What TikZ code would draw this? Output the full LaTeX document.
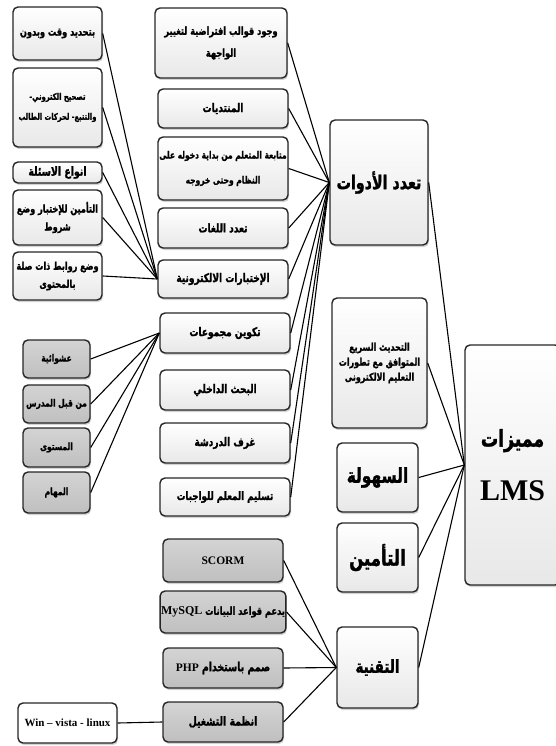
\documentclass[tikz,border=0pt]{standalone}
\usepackage{fontspec}
\setmainfont{Liberation Serif}
\newfontfamily\arabicfont[Script=Arabic,FakeStretch=0.75,FakeBold=1.4]{DejaVu Sans Bold}
\TeXXeTstate=1
\usetikzlibrary{shadows}
\newcommand{\artxt}[1]{{\arabicfont\beginR #1\endR}}

\begin{document}
\begin{tikzpicture}[x=1pt,y=-1pt,semithick]
  \tikzstyle{box}=[rectangle,rounded corners=5pt,draw=black!85,line width=1.4pt,top color=white,bottom color=black!9,drop shadow={opacity=0.35,shadow xshift=1pt,shadow yshift=-2pt},align=center,inner sep=1pt,font=\fontsize{12}{15}\selectfont]
  \tikzstyle{gbox}=[box,top color=black!17,bottom color=black!25,font=\fontsize{10}{12}\selectfont]
  \tikzstyle{tbox}=[gbox,font=\fontsize{12.5}{15}\selectfont]
  \tikzstyle{big}=[box,font=\fontsize{20.5}{24}\selectfont]
  \tikzstyle{link}=[draw=black,line width=1.1pt]

  \useasboundingbox (0,0) rectangle (555,746);

  % test options, left column
  \node[box,minimum width=89,minimum height=53,font=\fontsize{11}{13}\selectfont] (T1) at (57.5,33.5) {\artxt{بتحديد وقت وبدون}};
  \node[box,minimum width=89,minimum height=79,font=\fontsize{9}{20}\selectfont] (T2) at (57.5,107.5) {\artxt{تصحيح الكتروني-}\\\artxt{والتتبع- لحركات الطالب}};
  \node[box,minimum width=89,minimum height=21,font=\fontsize{12.5}{14}\selectfont] (T3) at (57.5,172.5) {\artxt{انواع الاسئلة}};
  \node[box,minimum width=89,minimum height=55,font=\fontsize{10.8}{18}\selectfont] (T4) at (57.5,217.5) {\artxt{التأمين للإختبار وضع}\\\artxt{شروط}};
  \node[box,minimum width=89,minimum height=48,font=\fontsize{10.8}{18}\selectfont] (T5) at (57.5,276) {\artxt{وضع روابط ذات صلة}\\\artxt{بالمحتوى}};

  % group options
  \node[gbox,minimum width=67,minimum height=38] (G1) at (56.5,359) {\artxt{عشوائية}};
  \node[gbox,minimum width=67,minimum height=38] (G2) at (56.5,404) {\artxt{من قبل المدرس}};
  \node[gbox,minimum width=67,minimum height=39] (G3) at (56.5,447.5) {\artxt{المستوى}};
  \node[gbox,minimum width=67,minimum height=41] (G4) at (56.5,492.5) {\artxt{المهام}};

  % tools, middle column
  \node[box,minimum width=132,minimum height=70,font=\fontsize{11}{22}\selectfont] (M1) at (221,43) {\artxt{وجود قوالب افتراضية لتغيير}\\\artxt{الواجهة}};
  \node[box,minimum width=130,minimum height=39] (M2) at (223,108.5) {\artxt{المنتديات}};
  \node[box,minimum width=130,minimum height=63,font=\fontsize{10}{25}\selectfont] (M3) at (223,168.5) {\artxt{متابعة المتعلم من بداية دخوله على}\\\artxt{النظام وحتى خروجه}};
  \node[box,minimum width=130,minimum height=40] (M4) at (223,228) {\artxt{تعدد اللغات}};
  \node[box,minimum width=130,minimum height=38] (M5) at (223,279) {\artxt{الإختبارات الالكترونية}};
  \node[box,minimum width=130,minimum height=40] (M6) at (225,333) {\artxt{تكوين مجموعات}};
  \node[box,minimum width=130,minimum height=40] (M7) at (225,390) {\artxt{البحث الداخلي}};
  \node[box,minimum width=130,minimum height=40] (M8) at (225,443) {\artxt{غرف الدردشة}};
  \node[box,minimum width=130,minimum height=38,font=\fontsize{11.6}{14}\selectfont] (M9) at (225,497) {\artxt{تسليم المعلم للواجبات}};

  % technical, bottom
  \node[tbox,minimum width=120,minimum height=43] (S1) at (223,560.5) {\bfseries\fontsize{11.5}{14}\selectfont SCORM};
  \node[tbox,minimum width=120,minimum height=42,font=\fontsize{11}{15}\selectfont] (S2) at (223,612) {\beginR\artxt{يدعم قواعد البيانات} {\bfseries\fontsize{12}{14}\selectfont\beginL MySQL\endL}\endR};
  \node[tbox,minimum width=120,minimum height=40] (S3) at (223,668) {\beginR\artxt{صمم باستخدام} {\bfseries\fontsize{11.5}{14}\selectfont\beginL PHP\endL}\endR};
  \node[tbox,minimum width=120,minimum height=40] (S4) at (223,722) {\artxt{انظمة التشغيل}};
  \node[box,top color=white,bottom color=white,minimum width=99,minimum height=40] (W) at (67.5,723) {\bfseries\fontsize{11}{13}\selectfont Win -- vista - linux};

  % main features
  \node[big,minimum width=98,minimum height=125,font=\fontsize{19}{23}\selectfont] (R1) at (379,182.5) {\artxt{تعدد الأدوات}};
  \node[box,minimum width=95,minimum height=130,font=\fontsize{10.6}{15}\selectfont] (R2) at (379.5,363) {\artxt{التحديث السريع}\\\artxt{المتوافق مع تطورات}\\\artxt{التعليم الالكترونى}};
  \node[big,minimum width=81,minimum height=69] (R3) at (377.5,477.5) {\artxt{السهولة}};
  \node[big,minimum width=81,minimum height=69,font=\fontsize{22}{26}\selectfont] (R4) at (377.5,557.5) {\artxt{التأمين}};
  \node[big,minimum width=81,minimum height=81,font=\fontsize{18}{22}\selectfont] (R5) at (377.5,667.5) {\artxt{التقنية}};
  \node[box,minimum width=95,minimum height=240,font=\fontsize{23}{28}\selectfont] (LMS) at (512.5,465) {\artxt{مميزات}\\[26pt]{\bfseries\fontsize{30}{36}\selectfont LMS}};

  \path (T1.east) edge[link] (M5.west)
        (T2.east) edge[link] (M5.west)
        (T3.east) edge[link] (M5.west)
        (T4.east) edge[link] (M5.west)
        (T5.east) edge[link] (M5.west);
  \path (G1.east) edge[link] (M6.west)
        (G2.east) edge[link] (M6.west)
        (G3.east) edge[link] (M6.west)
        (G4.east) edge[link] (M6.west);
  \path (M1.east) edge[link] (R1.west)
        (M2.east) edge[link] (R1.west)
        (M3.east) edge[link] (R1.west)
        (M4.east) edge[link] (R1.west)
        (M5.east) edge[link] (R1.west)
        (M6.east) edge[link] (R1.west)
        (M7.east) edge[link] (R1.west)
        (M8.east) edge[link] (R1.west)
        (M9.east) edge[link] (R1.west);
  \path (R1.east) edge[link] (LMS.west)
        (R2.east) edge[link] (LMS.west)
        (R3.east) edge[link] (LMS.west)
        (R4.east) edge[link] (LMS.west)
        (R5.east) edge[link] (LMS.west);
  \path (S1.east) edge[link] (R5.west)
        (S2.east) edge[link] (R5.west)
        (S3.east) edge[link] (R5.west)
        (S4.east) edge[link] (R5.west)
        (W.east)  edge[link] (S4.west);
\end{tikzpicture}
\end{document}
